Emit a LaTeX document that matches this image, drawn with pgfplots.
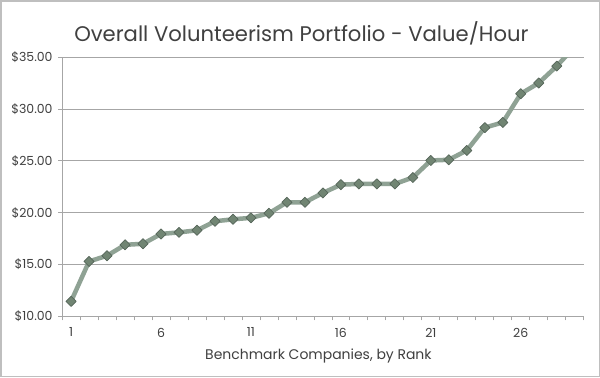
\documentclass[border=0pt]{standalone}
\usepackage{pgfplots}
\pgfplotsset{compat=1.18}
\usepackage{fontspec}
\setmainfont{Poppins}
\definecolor{linegreen}{HTML}{8FA294}
\definecolor{markfill}{HTML}{718573}
\definecolor{markedge}{HTML}{56665A}
\definecolor{gridgray}{HTML}{A6A6A6}
\definecolor{framegray}{HTML}{BFBFBF}
\definecolor{txt}{HTML}{404040}
\begin{document}
\begin{tikzpicture}[x=1bp,y=1bp]
\draw[framegray, line width=1.5bp, fill=white] (0.75,0.75) rectangle (598.5,376.25);
\node[txt, font=\fontsize{21.2}{25}\selectfont] at (301,344) {Overall Volunteerism Portfolio - Value/Hour};
\node[txt, font=\fontsize{14}{16}\selectfont] at (318,21) {Benchmark Companies, by Rank};
\begin{axis}[
  at={(62bp,61bp)}, anchor=south west,
  scale only axis, width=521bp, height=259bp,
  xmin=0.5, xmax=29.5, ymin=10, ymax=35,
  axis lines*=left,
  axis line style={gridgray, line width=0.8bp},
  xtick={0.5,1.5,...,29.5}, xticklabels={},
  extra x ticks={1,6,11,16,21,26},
  extra x tick labels={1,6,11,16,21,26},
  extra x tick style={major tick length=0pt, grid=none},
  ytick={10,15,...,35},
  yticklabel={\$\pgfmathprintnumber[fixed,fixed zerofill,precision=2]{\tick}},
  /pgf/number format/assume math mode=true,
  tick align=outside, major tick length=4bp,
  tick style={gridgray, line width=0.8bp},
  ymajorgrids, grid style={gridgray, line width=0.8bp},
  tick label style={txt, font=\fontsize{12.5}{14}\selectfont},
  xticklabel style={yshift=-8bp},
  yticklabel style={xshift=-2bp},
]
\addplot[linegreen, line width=4.5bp, line join=round,
  mark=square*, mark size=3.6bp,
  mark options={rotate=45, fill=markfill, draw=markedge, line width=0.7bp}]
coordinates {
(1,11.45) (2,15.3) (3,15.85) (4,16.9) (5,17.0) (6,17.95) (7,18.1) (8,18.3)
(9,19.17) (10,19.36) (11,19.5) (12,19.94) (13,21.0) (14,21.0) (15,21.9)
(16,22.7) (17,22.77) (18,22.77) (19,22.77) (20,23.39) (21,25.03) (22,25.1)
(23,26.0) (24,28.2) (25,28.7) (26,31.46) (27,32.5) (28,34.13) (29,36.0)
};
\end{axis}
\end{tikzpicture}
\end{document}
